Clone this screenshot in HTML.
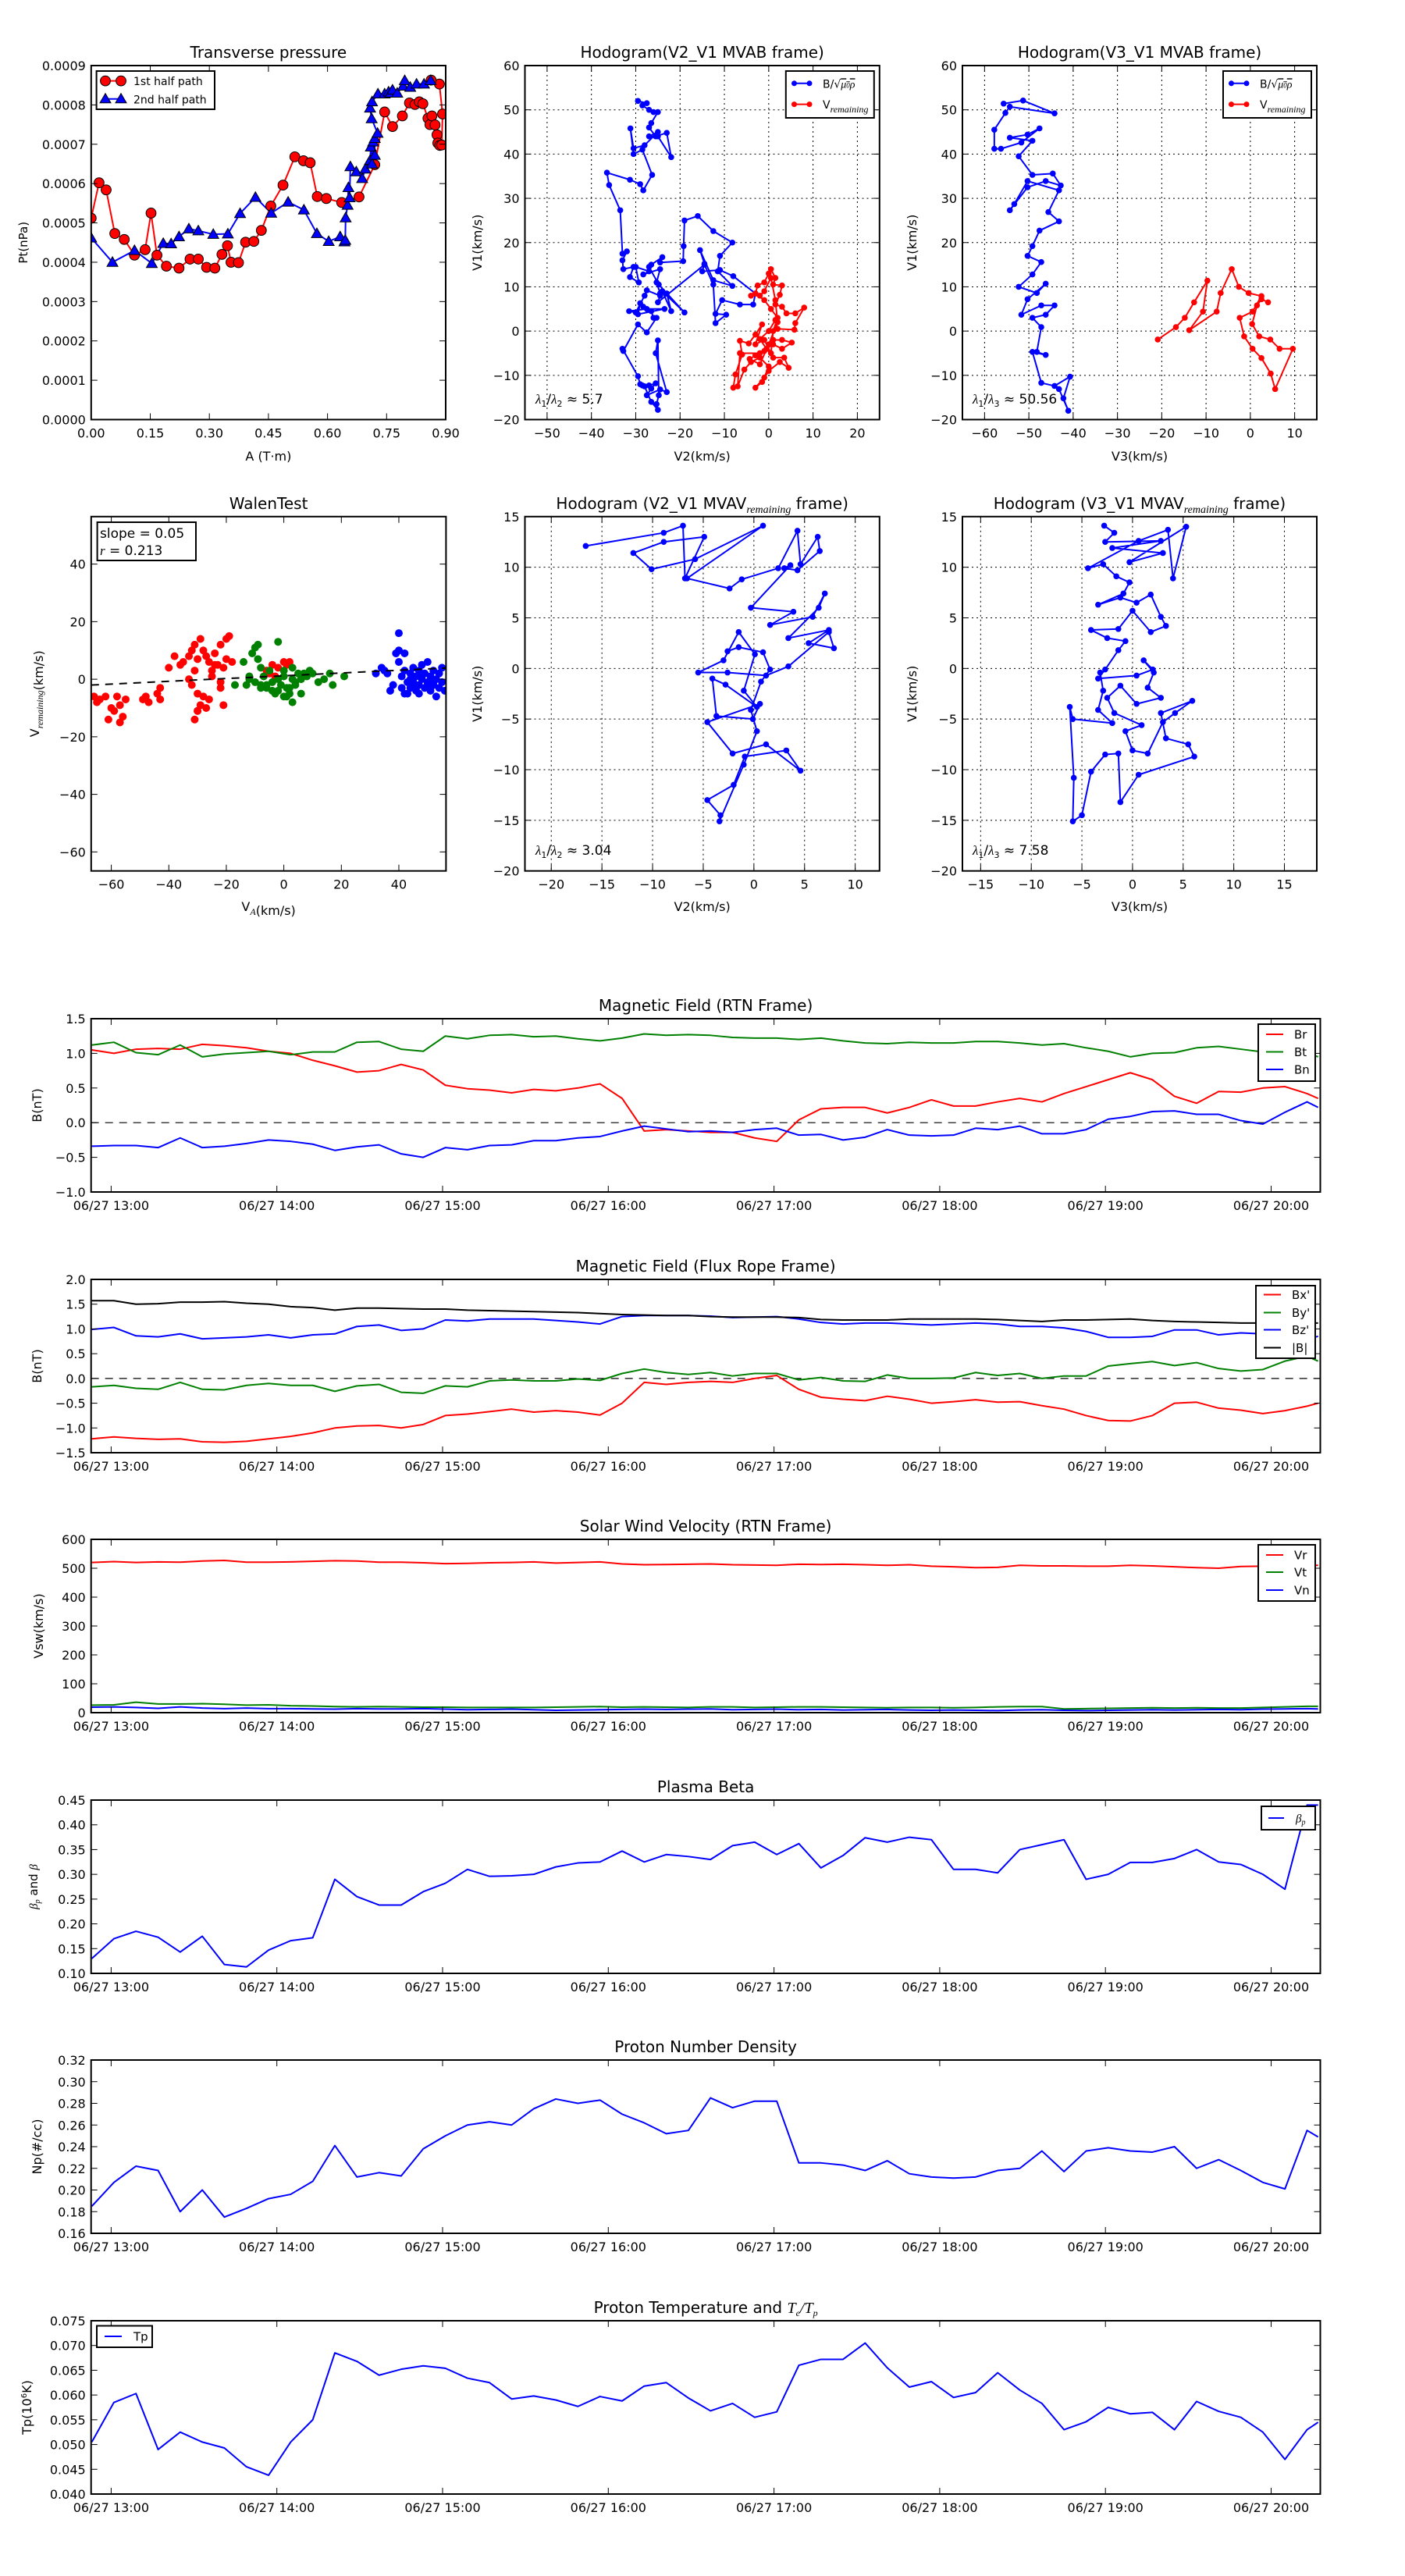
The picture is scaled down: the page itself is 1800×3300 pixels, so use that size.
<!DOCTYPE html>
<html>
<head>
<meta charset="utf-8">
<style>
html,body{margin:0;padding:0;background:#fff;}
svg{display:block;font-family:"DejaVu Sans","Liberation Sans",sans-serif;}
</style>
</head>
<body>
<svg id="chart" xmlns="http://www.w3.org/2000/svg" width="1800" height="3300" viewBox="0 0 1800 3300">
<rect x="0" y="0" width="1800" height="3300" fill="#ffffff"/>
</svg>
<script>
// ---------------- DATA ----------------
// Transverse pressure
const p1A = [0.0,0.02,0.038,0.06,0.084,0.11,0.137,0.152,0.167,0.191,0.223,0.251,0.272,0.293,0.314,0.332,0.346,0.355,0.374,0.392,0.413,0.432,0.456,0.487,0.517,0.539,0.556,0.574,0.597,0.636,0.68,0.72,0.745,0.765,0.79,0.808,0.822,0.833,0.842,0.855,0.86,0.865,0.873,0.878,0.88,0.885,0.89,0.892,0.884,0.863];
const p1P = [0.000512,0.000602,0.000584,0.000473,0.000458,0.000418,0.000432,0.000525,0.000418,0.00039,0.000385,0.000408,0.000408,0.000387,0.000385,0.00042,0.000442,0.0004,0.000399,0.000451,0.000453,0.000481,0.000543,0.000596,0.000668,0.000658,0.000653,0.000567,0.000562,0.000552,0.000566,0.000648,0.000782,0.000745,0.000772,0.000805,0.000801,0.000808,0.000803,0.000766,0.00075,0.000772,0.000749,0.000724,0.000703,0.000697,0.000698,0.000777,0.000853,0.000863];
const p2A = [0.0,0.054,0.11,0.154,0.183,0.203,0.223,0.248,0.272,0.31,0.347,0.378,0.417,0.457,0.5,0.54,0.573,0.603,0.632,0.643,0.645,0.646,0.651,0.653,0.656,0.658,0.673,0.688,0.696,0.708,0.71,0.713,0.716,0.72,0.72,0.727,0.712,0.708,0.713,0.728,0.745,0.755,0.76,0.765,0.777,0.792,0.796,0.81,0.826,0.845,0.862];
const p2P = [0.000462,0.0004,0.00043,0.000397,0.000448,0.000447,0.000465,0.000485,0.00048,0.000471,0.000472,0.000524,0.000565,0.000525,0.000553,0.000533,0.000473,0.000453,0.000465,0.000452,0.000456,0.000513,0.000545,0.00059,0.000564,0.000643,0.00063,0.000613,0.000637,0.000659,0.000693,0.00065,0.000706,0.000672,0.000715,0.000728,0.000765,0.000792,0.000808,0.000828,0.000828,0.000833,0.00083,0.000838,0.00083,0.000848,0.000862,0.000845,0.000853,0.000853,0.000862];

// Hodogram V2_V1 MVAB
const h1BV2 = [-29.5,-27.5,-28.5,-27,-26,-25,-26.5,-27,-25.5,-23,-22,-25,-27,-25,-28,-30.5,-31.2,-30.5,-28.5,-26.3,-28.3,-29,-31.3,-36.5,-36,-33.5,-33,-32,-33,-32.8,-30.5,-31.3,-29.3,-30,-27,-28.3,-24.5,-25.3,-24.5,-23,-22,-24,-19,-24.8,-27,-26.5,-24,-24.5,-19.3,-19.2,-19,-16,-12.5,-8.2,-11,-11.5,-8.2,-12.5,-15.5,-14.5,-15,-11,-8,-3,-3.5,-6.5,-10.5,-12,-9.6,-12,-12.5,-14.5,-25,-24.5,-27.5,-28,-30,-31.5,-27.5,-23.5,-29.5,-29,-28.3,-26.5,-26,-25.3,-27.5,-29.5,-32.8,-33,-29.5,-29,-28.5,-27,-25.5,-26.5,-27.5,-24.5,-23,-25.5,-25,-24.8,-25.3,-25,-26.5,-28];
const h1BV1 = [52,51.5,51,50,49.5,49.5,47,46,44,44.8,39.3,44,44,45,42,41.3,45.8,40,41,35.3,31.8,33.2,34.2,35.8,33,27.3,17.5,18,16,14,14.5,12.2,11,14.5,13.5,12.8,14,11,8.5,8.5,4.5,9,4.2,10.5,14.5,15,16.7,15.5,15.8,19.2,25,26,22.6,20,17,13.5,10.2,11.5,18.3,15.2,13.5,13.8,12.4,8.5,6,6,7,3.9,3.7,1.8,10.5,15,6.5,8,9.2,8,4.2,4.5,5,5,3.8,6.3,5.5,4.5,3,3,-0.3,1.5,-4.5,-4,-10.2,-12,-12.3,-12.3,-11.8,-13,-14.5,-13.2,-13.8,-5,-2.1,-14.5,-16.5,-17.8,-16,-12.5];
const h1VV2 = [-8,-7.5,-6,-6.5,-4.5,-3,-1.5,-3,-1,0.5,1,2,0.5,-1,-3,-2.5,-1,0,0.5,1.5,1,3,2.5,1.5,3,4,6,8,6,5.8,2,1.5,0,-2,-0.5,1,3.5,4.5,2.5,0,-1.5,-3,-1,0,-2,-4,-5.5,-7,-6.5,-2,1,3,5.2,3,1,-1,-3,-4.3,-2,0,2,1.5,0.5,-1,-2,-4];
const h1VV1 = [-12.8,-9.8,-5.3,-2.2,-2.8,-0.8,1.5,-3,-2,-5,0,3,5,7,8.5,10.3,11,13,14,12,10.5,10.3,8.2,6,5.5,4,4,5.3,1.8,0.3,0.5,2.5,0,-1.8,-4,-6,-6,-8.3,-7,-9,-11.5,-12.8,-10.5,-8,-6,-7,-8.7,-12.5,-5,-5,-3,-4,-2.6,-2,-2,-4.5,-5.5,-6.3,-7.5,-3,2,7,12,9,8,8];

// Hodogram V3_V1 MVAB
const h3BV3 = [-55.7,-51.3,-44.2,-54.3,-55.3,-57.8,-57.8,-56.3,-51.7,-47.6,-50.3,-54.3,-49.2,-52.3,-49.2,-44.6,-42.8,-46.2,-50.3,-54.3,-53.3,-50.3,-43.2,-45.6,-43.2,-47.6,-49.2,-50.3,-47.2,-49.2,-52.3,-48.2,-46.2,-50.3,-51.7,-47.2,-44.2,-46.2,-49.2,-47.2,-48.2,-46.2,-49.2,-47.2,-44.2,-40.7,-42.2,-41.1,-43.2];
const h3BV1 = [51.4,52.1,49.2,50.7,49.3,45.5,41.2,41.2,42.6,45.8,44.4,43.7,43,39.5,35.3,35.6,32.9,33.9,32.5,27.3,28.7,33.9,31.8,26.9,24.8,22.7,19.2,17,15.6,12.8,10,8.6,10.7,7.2,3.7,5.8,5.8,3.7,3,0.9,-4.7,-5.4,-4.7,-11.7,-12.4,-10.3,-15.2,-18,-13.1];
const h3VV3 = [-20.9,-16.8,-14.8,-12.7,-9.7,-10.7,-13.8,-7.6,-6.7,-4.2,-2.6,-0.4,2.5,0.5,-2.4,-1.4,0.5,2.5,4.6,5.6,9.6,6.6,4.5,2,0.4,1.5,2.5,4];
const h3VV1 = [-1.9,0.9,3,6.5,11.4,4.4,0.2,4.4,8.6,14,10,8.6,7.9,4.4,3,-1.2,-4,-6.1,-9.6,-13.1,-4,-4,-1.9,-1.2,1.6,5.8,7.2,6.5];

// Hodogram V2_V1 MVAV remaining
const h5V2 = [-16.6,-8.9,-7.0,-6.8,-4.9,-8.9,-11.9,-10.1,-5.8,0.9,-6.6,-2.4,-1.2,2.4,4.3,4.6,6.3,6.5,4.3,3.0,3.6,-0.3,3.9,1.6,5.8,7.0,6.4,3.4,7.4,5.4,7.9,7.4,3.4,1.2,-2.6,-5.5,-3.0,-1.5,0.1,-1.0,0.3,-2.8,-4.1,-3.7,-0.1,0.6,-4.6,-2.1,1.2,4.6,3.2,-0.9,-2.0,-4.6,-3.3,-3.4,-1.0,0.3,-0.3,0.7,1.6,0.9,-1.5,-2.6];
const h5V1 = [12.1,13.4,14.1,8.9,13.0,12.5,11.4,9.8,10.8,14.1,8.9,7.9,8.8,9.9,13.6,10.3,13.0,11.6,9.7,9.9,10.2,6.0,5.6,4.3,5.1,7.4,6.0,3.0,3.8,2.5,2.0,3.6,0.2,-0.7,-0.4,-0.4,0.8,3.6,1.4,-2.2,-3.8,-1.6,-1.0,-4.7,-5.0,-3.5,-5.3,-8.4,-7.5,-10.1,-8.1,-8.7,-11.5,-13.0,-14.5,-15.1,-9.5,-6.2,-4.1,-1.3,-0.1,1.6,2.1,1.7];

// Hodogram V3_V1 MVAV remaining
const h6V3 = [-2.8,-1.8,-2.7,2.8,-2.0,3.0,-0.3,5.3,4.0,3.5,0.6,-4.4,-2.9,-1.6,-0.3,-0.9,-3.4,-1.2,0.4,1.8,2.8,3.3,1.8,0.0,-1.4,-4.1,-2.5,-0.7,-1.4,-2.7,-3.4,0.4,2.0,1.1,2.1,1.5,2.8,0.4,-1.2,-2.5,-1.8,0.9,-0.7,0.0,1.5,3.0,4.2,5.9,2.8,3.3,5.5,6.1,0.6,-1.2,-1.4,-2.7,-4.1,-5.0,-5.9,-5.8,-6.2,-5.9,-2.0,-3.4,-2.9,-3.2];
const h6V1 = [14.1,13.4,12.5,12.6,11.9,11.4,10.5,14.0,8.9,13.7,12.6,9.9,10.3,9.1,8.5,7.4,6.3,7.0,6.5,7.3,5.1,4.2,3.6,5.7,3.9,3.8,3.0,2.7,1.8,-0.1,-1.0,-0.7,-0.1,0.8,-0.4,-1.9,-2.9,-3.5,-1.7,-2.9,-4.4,-5.6,-6.2,-8.1,-8.4,-5.3,-4.4,-3.2,-4.4,-6.9,-7.5,-8.7,-10.5,-13.2,-8.4,-8.5,-10.2,-14.5,-15.1,-10.8,-3.8,-5.0,-5.4,-4.1,-2.2,-0.4];

// Walen test
const wRedX = [-66,-65,-64,-62,-61,-60,-59,-58,-57,-57,-56,-55,-49,-48,-47,-44,-43,-43,-40,-38,-36,-35,-33,-32,-31,-30,-29,-28,-27,-26,-25,-24,-23,-22,-21,-20,-19,-18,-33,-32,-31,-30,-30,-29,-28,-27,-31,-30,-26,-25,-22,-22,-21,-20,-24,-6,-4,-2,0,1,2,-5,-3];
const wRedY = [-6,-8,-7,-6,-14,-10,-11,-6,-9,-15,-13,-7,-7,-6,-8,-5,-3,-7,4,8,5,6,8,10,12,7,14,10,8,6,3,9,5,12,4,14,15,6,0,-2,3,-5,-11,-9,-6,-10,-14,-11,-7,1,-1,-3,-9,7,5,3,5,4,6,5,6,2,1];
const wGreenX = [-17,-14,-13,-12,-11,-10,-9,-8,-8,-7,-6,-5,-4,-3,-2,-1,0,0,1,2,3,3,4,5,6,7,8,9,10,12,14,16,17,21,-10,-8,-6,-4,-2,0,2,4,-12,-9,-2,1,3,6];
const wGreenY = [-2,6,-2,0,9,11,12,4,-3,1,-2,3,-4,-5,0,-2,1,3,-6,-3,-8,4,-1,2,0,2,1,3,2,-1,0,2,-2,1,-1,-2,-3,-1,-4,-6,-5,-2,1,7,13,-3,0,-5];
const wBlueX = [32,34,35,36,37,38,39,40,40,41,41,42,42,43,43,44,44,45,45,46,46,47,47,48,48,49,49,50,50,51,51,52,52,53,53,54,54,55,55,56,44,46,48,50,52,42,47,51,40];
const wBlueY = [2,4,3,2,-4,-2,9,16,6,1,-3,9,3,-1,-5,2,-3,4,-1,1,-4,3,-2,5,0,-3,2,6,-1,1,-4,3,-2,0,-6,2,-3,4,-1,-4,0,-3,1,-2,-1,-5,-5,-3,10];
const walenSlope = 0.048;
const walenIntercept = 1.2;

// Time series (minutes after 13:00 on 06/27)
const tMin = [-7,1,9,17,25,33,41,49,57,65,73,81,89,97,105,113,121,129,137,145,153,161,169,177,185,193,201,209,217,225,233,241,249,257,265,273,281,289,297,305,313,321,329,337,345,353,361,369,377,385,393,401,409,417,425,433,437];
const timeTicks = [0,60,120,180,240,300,360,420];
const timeTickLabels = ["06/27 13:00","06/27 14:00","06/27 15:00","06/27 16:00","06/27 17:00","06/27 18:00","06/27 19:00","06/27 20:00"];

const Br = [1.05,1.00,1.06,1.07,1.06,1.13,1.11,1.08,1.03,1.00,0.90,0.82,0.73,0.75,0.84,0.76,0.54,0.49,0.47,0.43,0.48,0.46,0.50,0.56,0.35,-0.12,-0.10,-0.12,-0.14,-0.14,-0.22,-0.27,0.04,0.20,0.22,0.22,0.14,0.22,0.33,0.24,0.24,0.30,0.35,0.30,0.42,0.52,0.62,0.72,0.62,0.38,0.28,0.45,0.44,0.50,0.52,0.42,0.35];
const Bt = [1.12,1.16,1.01,0.98,1.12,0.95,0.99,1.01,1.03,0.98,1.02,1.02,1.16,1.17,1.06,1.03,1.25,1.21,1.26,1.27,1.24,1.25,1.21,1.18,1.22,1.28,1.26,1.27,1.26,1.23,1.22,1.22,1.20,1.22,1.18,1.15,1.14,1.16,1.15,1.15,1.17,1.17,1.15,1.12,1.14,1.08,1.03,0.95,1.00,1.01,1.08,1.10,1.06,1.02,1.03,1.00,0.95];
const Bn = [-0.34,-0.33,-0.33,-0.36,-0.22,-0.36,-0.34,-0.30,-0.25,-0.27,-0.31,-0.40,-0.35,-0.32,-0.45,-0.50,-0.36,-0.39,-0.33,-0.32,-0.26,-0.26,-0.22,-0.20,-0.12,-0.05,-0.09,-0.13,-0.12,-0.14,-0.10,-0.08,-0.18,-0.17,-0.25,-0.21,-0.10,-0.18,-0.19,-0.18,-0.08,-0.10,-0.05,-0.16,-0.16,-0.10,0.05,0.09,0.16,0.17,0.12,0.12,0.03,-0.02,0.15,0.30,0.22];

const Bx = [-1.22,-1.18,-1.21,-1.23,-1.22,-1.28,-1.29,-1.27,-1.22,-1.17,-1.10,-1.00,-0.96,-0.95,-1.00,-0.93,-0.75,-0.72,-0.67,-0.62,-0.68,-0.65,-0.68,-0.74,-0.50,-0.08,-0.12,-0.08,-0.06,-0.08,0.00,0.06,-0.22,-0.38,-0.42,-0.45,-0.36,-0.42,-0.50,-0.47,-0.43,-0.48,-0.47,-0.55,-0.62,-0.75,-0.85,-0.86,-0.75,-0.50,-0.48,-0.60,-0.64,-0.71,-0.65,-0.56,-0.50];
const By = [-0.17,-0.14,-0.20,-0.22,-0.08,-0.22,-0.23,-0.14,-0.10,-0.14,-0.14,-0.26,-0.15,-0.12,-0.28,-0.30,-0.15,-0.17,-0.05,-0.03,-0.05,-0.05,-0.01,-0.04,0.10,0.19,0.12,0.08,0.12,0.05,0.10,0.10,-0.03,0.02,-0.05,-0.06,0.07,0.00,0.00,0.01,0.12,0.06,0.10,0.00,0.05,0.05,0.25,0.30,0.34,0.26,0.32,0.20,0.15,0.18,0.35,0.45,0.35];
const Bz = [0.99,1.03,0.86,0.84,0.90,0.80,0.82,0.84,0.88,0.82,0.88,0.90,1.05,1.08,0.97,1.00,1.18,1.16,1.20,1.20,1.20,1.17,1.14,1.10,1.25,1.27,1.27,1.27,1.26,1.23,1.24,1.25,1.20,1.13,1.10,1.12,1.12,1.10,1.08,1.10,1.12,1.10,1.05,1.05,1.02,0.95,0.83,0.83,0.85,0.98,0.98,0.88,0.92,0.90,0.85,0.80,0.85];
const Bmag = [1.57,1.57,1.50,1.51,1.54,1.54,1.55,1.52,1.50,1.45,1.43,1.38,1.42,1.42,1.41,1.40,1.40,1.38,1.37,1.36,1.35,1.34,1.33,1.31,1.29,1.28,1.27,1.27,1.25,1.24,1.24,1.24,1.23,1.19,1.18,1.18,1.18,1.20,1.20,1.20,1.20,1.19,1.17,1.15,1.18,1.18,1.19,1.20,1.17,1.15,1.14,1.13,1.12,1.12,1.12,1.12,1.12];

const Vr = [520,523,520,522,521,525,527,521,521,522,524,526,525,521,521,519,516,517,519,520,522,518,520,522,515,512,513,514,515,512,511,510,514,513,514,512,510,512,507,505,502,503,510,508,508,507,507,510,508,505,502,500,506,507,505,510,510];
const Vt = [26,27,36,30,30,31,29,26,27,24,23,21,20,21,20,19,19,18,18,18,18,19,20,21,19,20,19,18,20,20,18,19,20,20,19,18,17,18,18,17,18,20,21,21,13,14,15,16,17,16,17,16,16,18,20,22,22];
const Vn = [19,20,18,15,20,16,14,16,14,14,13,12,14,13,13,14,12,10,11,12,10,8,9,10,11,12,11,12,13,10,11,12,10,11,9,10,11,9,8,9,8,7,9,10,8,7,8,9,10,9,10,11,10,12,13,14,13];

const betaP = [0.13,0.17,0.185,0.173,0.143,0.175,0.118,0.113,0.147,0.166,0.172,0.29,0.255,0.238,0.238,0.265,0.282,0.31,0.296,0.297,0.300,0.315,0.323,0.325,0.347,0.325,0.340,0.336,0.330,0.358,0.365,0.340,0.362,0.313,0.338,0.374,0.365,0.375,0.370,0.310,0.310,0.303,0.350,0.360,0.370,0.290,0.300,0.324,0.324,0.332,0.350,0.325,0.320,0.300,0.270,0.44,0.44];
const Np = [0.185,0.207,0.222,0.218,0.18,0.20,0.175,0.183,0.192,0.196,0.208,0.241,0.212,0.216,0.213,0.238,0.25,0.26,0.263,0.26,0.275,0.284,0.280,0.283,0.27,0.262,0.252,0.255,0.285,0.276,0.282,0.282,0.225,0.225,0.223,0.218,0.227,0.215,0.212,0.211,0.212,0.218,0.22,0.236,0.217,0.236,0.239,0.236,0.235,0.240,0.220,0.228,0.218,0.207,0.201,0.255,0.249];
const Tp = [0.0505,0.0585,0.0603,0.049,0.0525,0.0505,0.0493,0.0455,0.0438,0.0505,0.055,0.0685,0.0668,0.064,0.0652,0.0659,0.0654,0.0634,0.0625,0.0592,0.0598,0.059,0.0577,0.0597,0.0588,0.0618,0.0625,0.0594,0.0568,0.0583,0.0555,0.0566,0.066,0.0672,0.0672,0.0705,0.0655,0.0616,0.0627,0.0595,0.0605,0.0645,0.0610,0.0583,0.053,0.0546,0.0575,0.0562,0.0565,0.053,0.0587,0.0567,0.0555,0.0525,0.047,0.053,0.0545];

// ---------------- DRAWING ----------------
const NS = "http://www.w3.org/2000/svg";
const svg = document.getElementById('chart');
const M = "\u2212";
function mk(tag, attrs, parent) {
  const e = document.createElementNS(NS, tag);
  for (const k in attrs) e.setAttribute(k, attrs[k]);
  (parent || svg).appendChild(e);
  return e;
}
function fmt(v, d) { const s = Math.abs(v).toFixed(d); return (v < 0 && parseFloat(s) !== 0 ? M : "") + s; }
function range(a, b, s) { const r = []; for (let v = a; v <= b + s * 1e-6; v += s) r.push(Math.round(v * 1e6) / 1e6); return r; }
let clipN = 0;

function makeAxes(o) {
  const g = mk('g', {});
  
  
  const sx = v => o.x + (v - o.xmin) / (o.xmax - o.xmin) * o.w;
  const sy = v => o.y + o.h - (v - o.ymin) / (o.ymax - o.ymin) * o.h;
  const cid = 'clip' + (clipN++);
  const cp = mk('clipPath', { id: cid }, g);
  
  
  const cr = mk('rect', { x: o.x, y: o.y, width: o.w, height: o.h }, cp);
  
  
  if (o.grid) {
    o.xticks.forEach(v => {
      const l = mk('line', { x1: sx(v), x2: sx(v), y1: o.y, y2: o.y + o.h, stroke: '#000', 'stroke-width': 1, 'stroke-dasharray': '2,4' }, g);
      
      
    });
    o.yticks.forEach(v => {
      const l = mk('line', { x1: o.x, x2: o.x + o.w, y1: sy(v), y2: sy(v), stroke: '#000', 'stroke-width': 1, 'stroke-dasharray': '2,4' }, g);
      
      
    });
  }
  const plot = mk('g', { 'clip-path': 'url(#' + cid + ')' }, g);
  
  
  function finish() {
    o.xticks.forEach((v, i) => {
      const X = sx(v);
      const t1 = mk('line', { x1: X, x2: X, y1: o.y + o.h, y2: o.y + o.h - 8, stroke: '#000', 'stroke-width': 1 }, g);
      
      
      const t2 = mk('line', { x1: X, x2: X, y1: o.y, y2: o.y + 8, stroke: '#000', 'stroke-width': 1 }, g);
      
      
      const tl = mk('text', { x: X, y: o.y + o.h + 23, 'font-size': 16, 'text-anchor': 'middle', fill: '#000' }, g);
      tl.textContent = o.xlabels[i];
      
      
    });
    o.yticks.forEach((v, i) => {
      const Y = sy(v);
      const t1 = mk('line', { x1: o.x, x2: o.x + 8, y1: Y, y2: Y, stroke: '#000', 'stroke-width': 1 }, g);
      
      
      const t2 = mk('line', { x1: o.x + o.w, x2: o.x + o.w - 8, y1: Y, y2: Y, stroke: '#000', 'stroke-width': 1 }, g);
      
      
      const tl = mk('text', { x: o.x - 7, y: Y + 6, 'font-size': 16, 'text-anchor': 'end', fill: '#000' }, g);
      tl.textContent = o.ylabels[i];
      
      
    });
    const fr = mk('rect', { x: o.x, y: o.y, width: o.w, height: o.h, fill: 'none', stroke: '#000', 'stroke-width': 2 }, g);
    
    
  }
  return { sx, sy, g, plot, finish, o };
}
function title(ax, html, name) {
  const t = mk('text', { x: ax.o.x + ax.o.w / 2, y: ax.o.y - 10, 'font-size': 20, 'text-anchor': 'middle', fill: '#000' }, ax.g);
  t.innerHTML = html;
  
  
}
function xlabel(ax, html, y) {
  const t = mk('text', { x: ax.o.x + ax.o.w / 2, y: y, 'font-size': 16, 'text-anchor': 'middle', fill: '#000' }, ax.g);
  t.innerHTML = html;
  
  
}
function ylabel(ax, html, x, size) {
  const cy = ax.o.y + ax.o.h / 2;
  const t = mk('text', { x: x, y: cy, 'font-size': size || 16, 'text-anchor': 'middle', fill: '#000', transform: 'rotate(-90 ' + x + ' ' + cy + ')' }, ax.g);
  t.innerHTML = html;
  
  
}
function line(ax, xs, ys, color, name, w) {
  const n = Math.min(xs.length, ys.length);
  let d = '';
  for (let i = 0; i < n; i++) d += (i ? 'L' : 'M') + ax.sx(xs[i]).toFixed(2) + ',' + ax.sy(ys[i]).toFixed(2);
  const p = mk('path', { d: d, fill: 'none', stroke: color, 'stroke-width': w || 2, 'stroke-linejoin': 'round' }, ax.plot);
  
  
}
function dots(ax, xs, ys, color, r, name, edge) {
  const n = Math.min(xs.length, ys.length);
  for (let i = 0; i < n; i++) {
    const c = mk('circle', { cx: ax.sx(xs[i]), cy: ax.sy(ys[i]), r: r, fill: color, stroke: edge || 'none', 'stroke-width': edge ? 1 : 0 }, ax.plot);
    
    
  }
}
function tris(ax, xs, ys, color, s, name) {
  const n = Math.min(xs.length, ys.length);
  for (let i = 0; i < n; i++) {
    const X = ax.sx(xs[i]), Y = ax.sy(ys[i]);
    const p = mk('polygon', { points: X + ',' + (Y - s) + ' ' + (X - s) + ',' + (Y + s * 0.75) + ' ' + (X + s) + ',' + (Y + s * 0.75), fill: color, stroke: '#000', 'stroke-width': 1 }, ax.plot);
    
    
  }
}
function legendBox(parent, x, y, w, h, name) {
  const g = mk('g', {}, parent);
  
  
  const r = mk('rect', { x: x, y: y, width: w, height: h, fill: '#fff', stroke: '#000', 'stroke-width': 2 }, g);
  
  
  return g;
}
function legendEntry(g, x1, x2, y, color, label, tx, markers, fs) {
  const l = mk('line', { x1: x1, x2: x2, y1: y, y2: y, stroke: color, 'stroke-width': 2 }, g);
  
  
  if (markers === 'dot') {
    [x1, x2].forEach(X => {
      const c = mk('circle', { cx: X, cy: y, r: 3.5, fill: color }, g);
      
      
    });
  }
  if (markers === 'bigdot') {
    [x1, x2].forEach(X => {
      const c = mk('circle', { cx: X, cy: y, r: 6.4, fill: color, stroke: '#000', 'stroke-width': 1 }, g);
      
      
    });
  }
  if (markers === 'tri') {
    [x1, x2].forEach(X => {
      const p = mk('polygon', { points: X + ',' + (y - 7) + ' ' + (X - 7) + ',' + (y + 5) + ' ' + (X + 7) + ',' + (y + 5), fill: color, stroke: '#000', 'stroke-width': 1 }, g);
      
      
    });
  }
  const t = mk('text', { x: tx, y: y + 5.5, 'font-size': fs || 15, fill: '#000' }, g);
  t.innerHTML = label;
  
  
}
function note(ax, x, y, html, name) {
  const t = mk('text', { x: x, y: y, 'font-size': 17, fill: '#000' }, ax.g);
  t.innerHTML = html;
  
  
}
const SUBI = (s) => '<tspan font-family="Liberation Serif, serif" font-style="italic" font-size="12" dy="5">' + s + '</tspan><tspan dy="-5"></tspan>';
const LAMB = (a, b) => '<tspan font-family="Liberation Serif, serif" font-style="italic">λ</tspan><tspan font-size="11" dy="4">' + a + '</tspan><tspan dy="-4">/</tspan><tspan font-family="Liberation Serif, serif" font-style="italic">λ</tspan><tspan font-size="11" dy="4">' + b + '</tspan><tspan dy="-4"> ≈ </tspan>';

// ---- Panel 1: Transverse pressure
const xtP = range(0, 0.9, 0.15);
const ytP = range(0, 0.0009, 0.0001);
const axP = makeAxes({ name: 'transverse-pressure-chart', x: 116.8, y: 84, w: 454.2, h: 453.5, xmin: 0, xmax: 0.9, ymin: 0, ymax: 0.0009,
  xticks: xtP, xlabels: xtP.map(v => v.toFixed(2)), yticks: ytP, ylabels: ytP.map(v => v.toFixed(4)) });
line(axP, p1A, p1P, '#ff0000', 'first-half-path-line', 2);
line(axP, p2A, p2P, '#0000ff', 'second-half-path-line', 2);
dots(axP, p1A, p1P, '#ff0000', 6.4, 'first-half-point', '#000');
tris(axP, p2A, p2P, '#0000ff', 7, 'second-half-point');
axP.finish();
title(axP, 'Transverse pressure', 'pressure-title');
xlabel(axP, 'A (T·m)', 590);
ylabel(axP, 'Pt(nPa)', 35, 15);
{
  const lg = legendBox(axP.g, 123.6, 91, 151.4, 49, 'pressure-legend');
  legendEntry(lg, 135, 155, 103.6, '#ff0000', '1st half path', 171, 'bigdot', 14);
  legendEntry(lg, 135, 155, 126.8, '#0000ff', '2nd half path', 171, 'tri', 14);
}

// ---- Hodogram 1
const xtH1 = range(-50, 20, 10);
const ytH = range(-20, 60, 10);
const axH1 = makeAxes({ name: 'hodogram-v2-v1-mvab-chart', x: 672.5, y: 84, w: 454.3, h: 453.5, xmin: -55, xmax: 25, ymin: -20, ymax: 60, grid: true,
  xticks: xtH1, xlabels: xtH1.map(v => fmt(v, 0)), yticks: ytH, ylabels: ytH.map(v => fmt(v, 0)) });
line(axH1, h1BV2, h1BV1, '#0000ff', 'b-hodogram-line', 2);
dots(axH1, h1BV2, h1BV1, '#0000ff', 3.8, 'b-hodogram-point');
line(axH1, h1VV2, h1VV1, '#ff0000', 'v-remaining-hodogram-line', 2);
dots(axH1, h1VV2, h1VV1, '#ff0000', 3.8, 'v-remaining-hodogram-point');
axH1.finish();
title(axH1, 'Hodogram(V2_V1 MVAB frame)', 'hodogram-1-title');
xlabel(axH1, 'V2(km/s)', 590);
ylabel(axH1, 'V1(km/s)', 617);
note(axH1, 686, 517, LAMB('1', '2') + '5.7', 'eigenvalue-ratio-note');
{
  const lg = legendBox(axH1.g, 1006.8, 91, 113, 60, 'hodogram-1-legend');
  legendEntry(lg, 1017.5, 1037, 106.8, '#0000ff', 'B/√<tspan text-decoration="overline" font-family="Liberation Serif, serif" font-style="italic">μ<tspan font-size="9">0</tspan>ρ</tspan>', 1054, 'dot', 14);
  legendEntry(lg, 1017.5, 1037, 133.6, '#ff0000', 'V' + SUBI('remaining'), 1054, 'dot', 14);
}

// ---- Hodogram 3
const xtH3 = range(-60, 10, 10);
const axH3 = makeAxes({ name: 'hodogram-v3-v1-mvab-chart', x: 1233, y: 84, w: 454, h: 453.5, xmin: -65, xmax: 15, ymin: -20, ymax: 60, grid: true,
  xticks: xtH3, xlabels: xtH3.map(v => fmt(v, 0)), yticks: ytH, ylabels: ytH.map(v => fmt(v, 0)) });
line(axH3, h3BV3, h3BV1, '#0000ff', 'b-hodogram-line', 2);
dots(axH3, h3BV3, h3BV1, '#0000ff', 3.8, 'b-hodogram-point');
line(axH3, h3VV3, h3VV1, '#ff0000', 'v-remaining-hodogram-line', 2);
dots(axH3, h3VV3, h3VV1, '#ff0000', 3.8, 'v-remaining-hodogram-point');
axH3.finish();
title(axH3, 'Hodogram(V3_V1 MVAB frame)', 'hodogram-3-title');
xlabel(axH3, 'V3(km/s)', 590);
ylabel(axH3, 'V1(km/s)', 1174);
note(axH3, 1246, 517, LAMB('1', '3') + '50.56', 'eigenvalue-ratio-note');
{
  const lg = legendBox(axH3.g, 1567, 91, 113, 60, 'hodogram-3-legend');
  legendEntry(lg, 1577.5, 1597, 106.8, '#0000ff', 'B/√<tspan text-decoration="overline" font-family="Liberation Serif, serif" font-style="italic">μ<tspan font-size="9">0</tspan>ρ</tspan>', 1614, 'dot', 14);
  legendEntry(lg, 1577.5, 1597, 133.6, '#ff0000', 'V' + SUBI('remaining'), 1614, 'dot', 14);
}

// ---- Walen test
const xtW = range(-60, 40, 20);
const ytW = range(-60, 40, 20);
const axW = makeAxes({ name: 'walen-test-chart', x: 116.8, y: 661.8, w: 454.6, h: 453.9, xmin: -67, xmax: 56.4, ymin: -66.6, ymax: 56.5,
  xticks: xtW, xlabels: xtW.map(v => fmt(v, 0)), yticks: ytW, ylabels: ytW.map(v => fmt(v, 0)) });
dots(axW, wRedX, wRedY, '#ff0000', 5, 'walen-first-point');
dots(axW, wGreenX, wGreenY, '#008000', 5, 'walen-middle-point');
dots(axW, wBlueX, wBlueY, '#0000ff', 5, 'walen-second-point');
{
  const fx = [-67, 56.4];
  const fy = fx.map(v => walenSlope * v + walenIntercept);
  const p = mk('line', { x1: axW.sx(fx[0]), y1: axW.sy(fy[0]), x2: axW.sx(fx[1]), y2: axW.sy(fy[1]), stroke: '#000', 'stroke-width': 2, 'stroke-dasharray': '10,8' }, axW.plot);
  
  
}
axW.finish();
title(axW, 'WalenTest', 'walen-title');
xlabel(axW, 'V' + SUBI('A') + '(km/s)', 1167);
ylabel(axW, 'V' + SUBI('remaining') + '(km/s)', 50);
{
  const lg = legendBox(axW.g, 124.6, 669, 126.4, 49, 'walen-stats-box');
  const t1 = mk('text', { x: 128, y: 689, 'font-size': 17, fill: '#000' }, lg);
  t1.textContent = 'slope = 0.05';
  
  
  const t2 = mk('text', { x: 128, y: 711, 'font-size': 17, fill: '#000' }, lg);
  t2.innerHTML = '<tspan font-family="Liberation Serif, serif" font-style="italic">r</tspan> = 0.213';
  
  
}

// ---- Hodogram 5 (MVAV V2)
const xtH5 = range(-20, 10, 5);
const ytH5 = range(-20, 15, 5);
const axH5 = makeAxes({ name: 'hodogram-v2-v1-mvav-chart', x: 672.5, y: 661.8, w: 454.3, h: 453.9, xmin: -22.6, xmax: 12.4, ymin: -20, ymax: 15, grid: true,
  xticks: xtH5, xlabels: xtH5.map(v => fmt(v, 0)), yticks: ytH5, ylabels: ytH5.map(v => fmt(v, 0)) });
line(axH5, h5V2, h5V1, '#0000ff', 'hodogram-line', 2);
dots(axH5, h5V2, h5V1, '#0000ff', 3.8, 'hodogram-point');
axH5.finish();
title(axH5, 'Hodogram (V2_V1 MVAV<tspan font-family="Liberation Serif, serif" font-style="italic" font-size="14" dy="5">remaining</tspan><tspan dy="-5"> frame)</tspan>', 'hodogram-5-title');
xlabel(axH5, 'V2(km/s)', 1167);
ylabel(axH5, 'V1(km/s)', 617);
note(axH5, 686, 1095, LAMB('1', '2') + '3.04', 'eigenvalue-ratio-note');

// ---- Hodogram 6 (MVAV V3)
const xtH6 = range(-15, 15, 5);
const axH6 = makeAxes({ name: 'hodogram-v3-v1-mvav-chart', x: 1233, y: 661.8, w: 454, h: 453.9, xmin: -16.8, xmax: 18.2, ymin: -20, ymax: 15, grid: true,
  xticks: xtH6, xlabels: xtH6.map(v => fmt(v, 0)), yticks: ytH5, ylabels: ytH5.map(v => fmt(v, 0)) });
line(axH6, h6V3, h6V1, '#0000ff', 'hodogram-line', 2);
dots(axH6, h6V3, h6V1, '#0000ff', 3.8, 'hodogram-point');
axH6.finish();
title(axH6, 'Hodogram (V3_V1 MVAV<tspan font-family="Liberation Serif, serif" font-style="italic" font-size="14" dy="5">remaining</tspan><tspan dy="-5"> frame)</tspan>', 'hodogram-6-title');
xlabel(axH6, 'V3(km/s)', 1167);
ylabel(axH6, 'V1(km/s)', 1174);
note(axH6, 1246, 1095, LAMB('1', '3') + '7.58', 'eigenvalue-ratio-note');

// ---- Time series panels
const TX = 116.7, TW = 1574.8, TH = 222, TMIN = -7.26, TMAX = 437.8;
function tsAxes(name, top, ymin, ymax, yt, yl) {
  return makeAxes({ name: name, x: TX, y: top, w: TW, h: TH, xmin: TMIN, xmax: TMAX, ymin: ymin, ymax: ymax,
    xticks: timeTicks, xlabels: timeTickLabels, yticks: yt, ylabels: yl });
}
function zeroLine(ax) {
  const l = mk('line', { x1: ax.o.x, x2: ax.o.x + ax.o.w, y1: ax.sy(0), y2: ax.sy(0), stroke: '#000', 'stroke-width': 1.2, 'stroke-dasharray': '10,8' }, ax.plot);
  
  
}
const LX1 = 1622, LX2 = 1644, LTX = 1658;

// Magnetic field RTN
const ytM = range(-1, 1.5, 0.5);
const axM = tsAxes('magnetic-field-rtn-chart', 1305, -1, 1.5, ytM, ytM.map(v => fmt(v, 1)));
zeroLine(axM);
line(axM, tMin, Br, '#ff0000', 'br-line');
line(axM, tMin, Bt, '#008000', 'bt-line');
line(axM, tMin, Bn, '#0000ff', 'bn-line');
axM.finish();
title(axM, 'Magnetic Field (RTN Frame)', 'magnetic-field-rtn-title');
ylabel(axM, 'B(nT)', 53);
{
  const lg = legendBox(axM.g, 1612, 1312, 73, 73, 'magnetic-field-rtn-legend');
  legendEntry(lg, LX1, LX2, 1325, '#ff0000', 'Br', LTX);
  legendEntry(lg, LX1, LX2, 1347.5, '#008000', 'Bt', LTX);
  legendEntry(lg, LX1, LX2, 1370, '#0000ff', 'Bn', LTX);
}

// Magnetic field flux rope
const ytF = range(-1.5, 2, 0.5);
const axF = tsAxes('magnetic-field-flux-rope-chart', 1639, -1.5, 2, ytF, ytF.map(v => fmt(v, 1)));
zeroLine(axF);
line(axF, tMin, Bx, '#ff0000', 'bx-prime-line');
line(axF, tMin, By, '#008000', 'by-prime-line');
line(axF, tMin, Bz, '#0000ff', 'bz-prime-line');
line(axF, tMin, Bmag, '#000000', 'b-magnitude-line');
axF.finish();
title(axF, 'Magnetic Field (Flux Rope Frame)', 'magnetic-field-flux-rope-title');
ylabel(axF, 'B(nT)', 53);
{
  const lg = legendBox(axF.g, 1609, 1647, 76, 93, 'magnetic-field-flux-rope-legend');
  legendEntry(lg, 1619, 1641, 1658.5, '#ff0000', "Bx'", 1655);
  legendEntry(lg, 1619, 1641, 1681.5, '#008000', "By'", 1655);
  legendEntry(lg, 1619, 1641, 1703.5, '#0000ff', "Bz'", 1655);
  legendEntry(lg, 1619, 1641, 1726.5, '#000000', '|B|', 1655);
}

// Solar wind velocity
const ytV = range(0, 600, 100);
const axV = tsAxes('solar-wind-velocity-chart', 1972, 0, 600, ytV, ytV.map(v => String(v)));
line(axV, tMin, Vr, '#ff0000', 'vr-line');
line(axV, tMin, Vt, '#008000', 'vt-line');
line(axV, tMin, Vn, '#0000ff', 'vn-line');
axV.finish();
title(axV, 'Solar Wind Velocity (RTN Frame)', 'solar-wind-velocity-title');
ylabel(axV, 'Vsw(km/s)', 55);
{
  const lg = legendBox(axV.g, 1612, 1979, 73, 72, 'solar-wind-velocity-legend');
  legendEntry(lg, LX1, LX2, 1992, '#ff0000', 'Vr', LTX);
  legendEntry(lg, LX1, LX2, 2014, '#008000', 'Vt', LTX);
  legendEntry(lg, LX1, LX2, 2037, '#0000ff', 'Vn', LTX);
}

// Plasma beta
const ytB = range(0.10, 0.45, 0.05);
const axB = tsAxes('plasma-beta-chart', 2306, 0.10, 0.45, ytB, ytB.map(v => v.toFixed(2)));
line(axB, tMin, betaP, '#0000ff', 'beta-p-line');
axB.finish();
title(axB, 'Plasma Beta', 'plasma-beta-title');
ylabel(axB, '<tspan font-family="Liberation Serif, serif" font-style="italic">β</tspan><tspan font-size="10" font-family="Liberation Serif, serif" font-style="italic" dy="3">p</tspan><tspan dy="-3"> and </tspan><tspan font-family="Liberation Serif, serif" font-style="italic">β</tspan>', 48, 15);
{
  const lg = legendBox(axB.g, 1616, 2314, 69, 30, 'plasma-beta-legend');
  legendEntry(lg, 1625, 1645, 2329, '#0000ff', '<tspan font-family="Liberation Serif, serif" font-style="italic">β</tspan><tspan font-size="10" font-family="Liberation Serif, serif" font-style="italic" dy="3">p</tspan>', 1660);
}

// Proton number density
const ytN = range(0.16, 0.32, 0.02);
const axN = tsAxes('proton-number-density-chart', 2639, 0.16, 0.32, ytN, ytN.map(v => v.toFixed(2)));
line(axN, tMin, Np, '#0000ff', 'np-line');
axN.finish();
title(axN, 'Proton Number Density', 'proton-number-density-title');
ylabel(axN, 'Np(#/cc)', 53);

// Proton temperature
const ytT = range(0.040, 0.075, 0.005);
const axT = tsAxes('proton-temperature-chart', 2973, 0.040, 0.075, ytT, ytT.map(v => v.toFixed(3)));
line(axT, tMin, Tp, '#0000ff', 'tp-line');
axT.finish();
title(axT, 'Proton Temperature and <tspan font-family="Liberation Serif, serif" font-style="italic">T</tspan><tspan font-family="Liberation Serif, serif" font-style="italic" font-size="12" dy="4">e</tspan><tspan dy="-4" font-family="Liberation Serif, serif" font-style="italic">/T</tspan><tspan font-family="Liberation Serif, serif" font-style="italic" font-size="12" dy="4">p</tspan>', 'proton-temperature-title');
ylabel(axT, 'Tp(10<tspan font-size="10" dy="-6">6</tspan><tspan dy="6">K)</tspan>', 40);
{
  const lg = legendBox(axT.g, 124, 2979.5, 71, 27.5, 'proton-temperature-legend');
  legendEntry(lg, 134, 156, 2993, '#0000ff', 'Tp', 171);
}
</script>
</body>
</html>
